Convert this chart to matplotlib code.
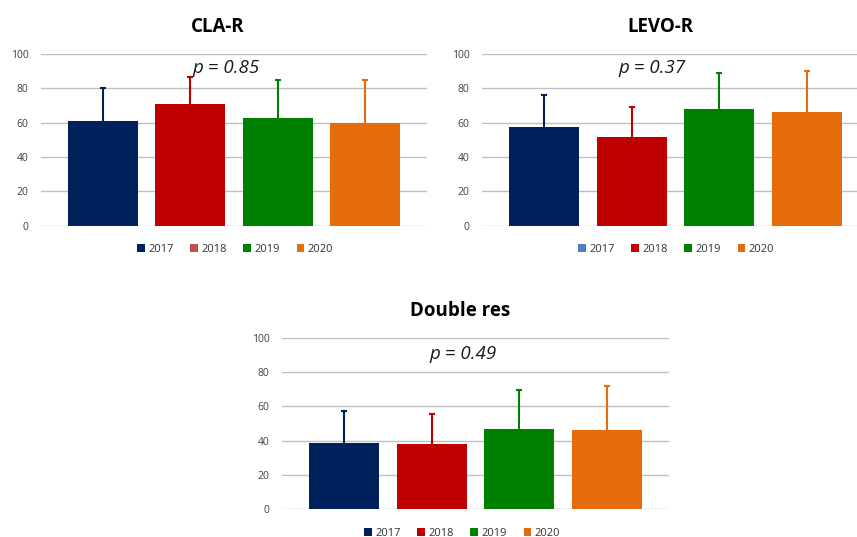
import matplotlib.pyplot as plt
from matplotlib.patches import Patch

plt.rcParams["font.family"] = ["Open Sans", "DejaVu Sans"]

W, H = 857, 537

years = ["2017", "2018", "2019", "2020"]
bar_colors = ["#00215B", "#C00000", "#008000", "#E46C0A"]

# mean values and upper error (top of whisker) per panel
cla_means = [61.2, 70.7, 62.5, 59.8]
cla_tops = [80.0, 86.4, 84.7, 84.7]
levo_means = [57.7, 51.7, 68.2, 66.1]
levo_tops = [76.3, 69.0, 89.1, 90.1]
dbl_means = [38.5, 38.2, 47.0, 46.4]
dbl_tops = [57.1, 55.7, 69.5, 71.8]

cla_legend = ["#00215B", "#C0504D", "#008000", "#E46C0A"]
levo_legend = ["#4F81BD", "#C00000", "#008000", "#E46C0A"]
dbl_legend = bar_colors

fig = plt.figure(figsize=(W / 100, H / 100), dpi=100)


def px_axes(x0, x1, ytop, ybot):
    return fig.add_axes([x0 / W, 1 - ybot / H, (x1 - x0) / W, (ybot - ytop) / H])


def panel(x0, x1, ytop, ybot, xmax, means, tops, title, title_xy, ptext, p_xy,
          legend_colors, legend_xy):
    ax = px_axes(x0, x1, ytop, ybot)
    xs = range(len(years))
    errs = [t - m for t, m in zip(tops, means)]
    for x, m, e, c in zip(xs, means, errs, bar_colors):
        ax.bar(x, m, width=0.8, color=c, zorder=2)
        _, caps, _ = ax.errorbar(x, m, yerr=[[0], [e]], color=c, capsize=2.5,
                                 capthick=1.5, elinewidth=1.5, zorder=3)
        # plus-only whisker: drop the cap sitting on the bar top
        caps[0].set_visible(False)
    ax.set_xlim(-0.71, xmax)
    ax.set_ylim(0, 100)
    ax.set_yticks(range(0, 101, 20))
    ax.set_xticks([])
    ax.yaxis.grid(True, color="#BFBFBF", linewidth=1, zorder=0)
    ax.set_axisbelow(True)
    for s in ax.spines.values():
        s.set_visible(False)
    ax.tick_params(axis="y", length=0, pad=9, labelsize=7.5, labelcolor="#404040")

    fig.text(title_xy[0] / W, 1 - title_xy[1] / H, title, ha="center", va="center",
             fontsize=13.5, fontweight="bold")
    fig.text(p_xy[0] / W, 1 - p_xy[1] / H, ptext, ha="center", va="center",
             fontsize=13.5, style="italic", color="#1a1a1a")

    handles = [Patch(facecolor=c) for c in legend_colors]
    fig.legend(handles, years, loc="center", bbox_to_anchor=(legend_xy[0] / W, 1 - legend_xy[1] / H),
               ncol=4, frameon=False, fontsize=8, handlelength=0.7, handleheight=0.7,
               handletextpad=0.3, columnspacing=1.5, labelcolor="#333333")
    return ax


panel(41, 427, 54, 225.7, 3.71, cla_means, cla_tops, "CLA-R", (218, 27),
      "p = 0.85", (226, 68), cla_legend, (235, 249))
panel(482, 869, 54, 225.7, 3.71, levo_means, levo_tops, "LEVO-R", (660, 27),
      "p = 0.37", (652, 68), levo_legend, (676, 249))
panel(282, 669, 337.7, 509.3, 3.71, dbl_means, dbl_tops, "Double res", (460.5, 311),
      "p = 0.49", (463, 354), dbl_legend, (462, 533))

fig.savefig("out.png", dpi=100)
